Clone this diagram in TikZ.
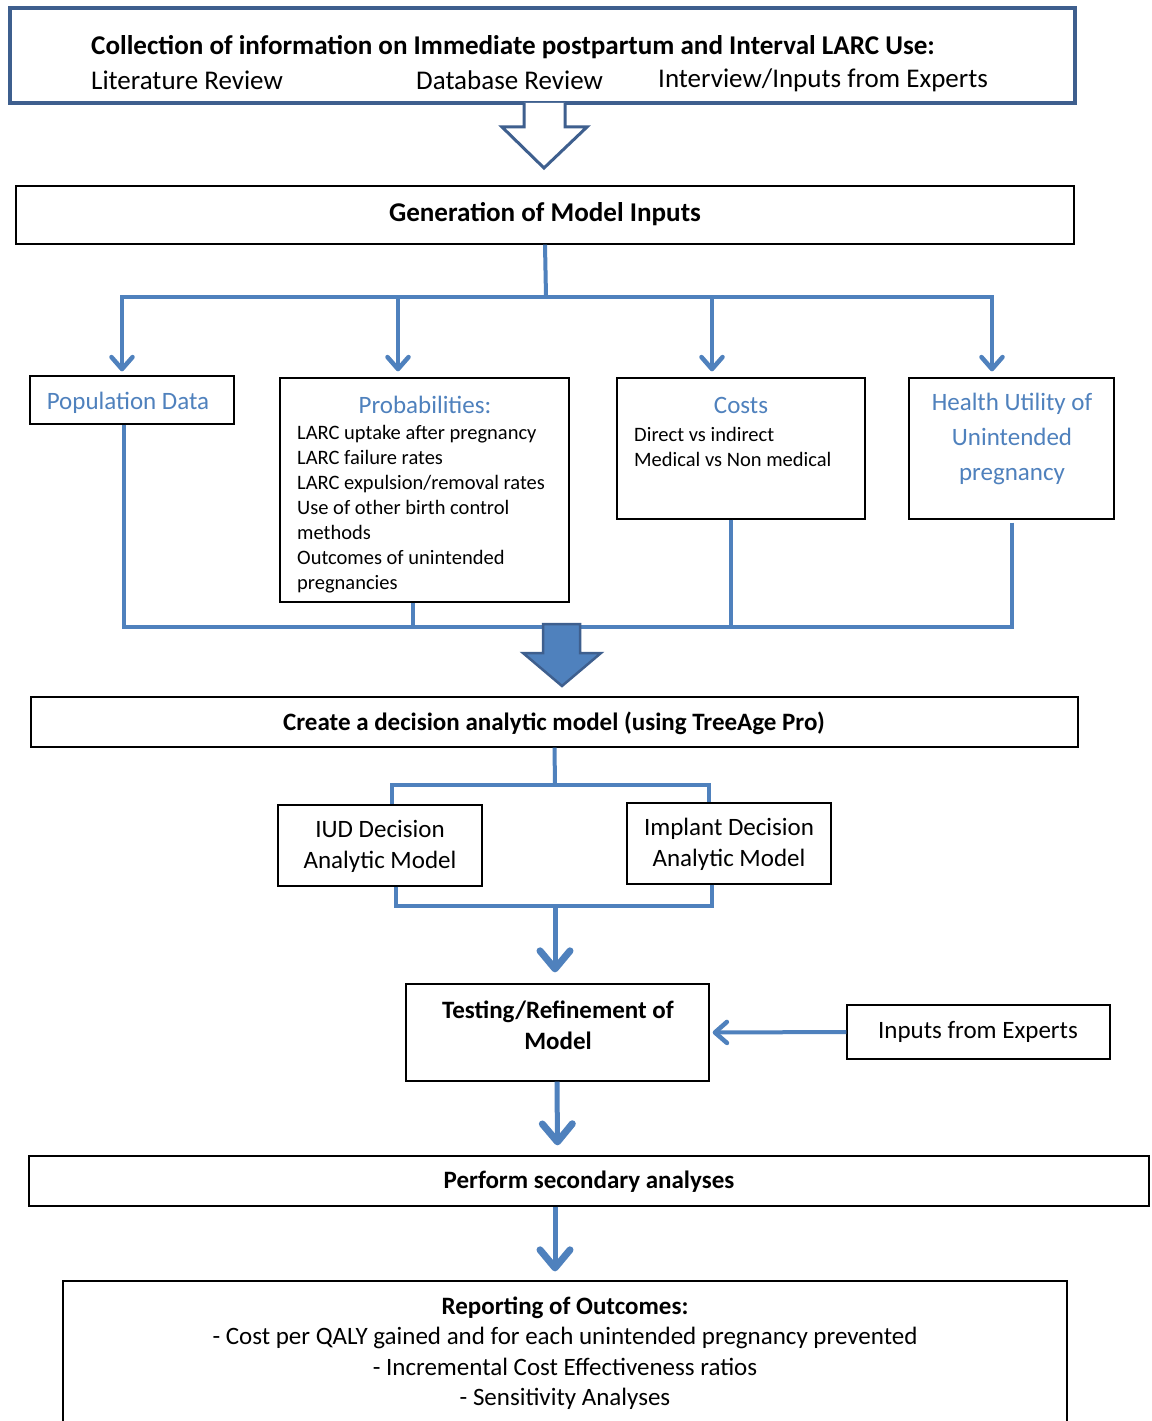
\documentclass[tikz,border=0pt]{standalone}
\usepackage{fontspec}
\setmainfont{Carlito}
\usetikzlibrary{arrows.meta}
\definecolor{lblue}{HTML}{4F81BD}
\definecolor{dblue}{HTML}{3E5F8E}
\definecolor{tblue}{HTML}{4F81BD}
\tikzset{
  box/.style={draw=black, line width=1.3bp, fill=white, inner sep=0pt},
  conn/.style={draw=lblue, line width=4bp},
  arr/.style={conn, -{Straight Barb[length=12bp,width=21bp,line width=4.5bp,round]}},
  bigarr/.style={draw=lblue, line width=5bp, -{Straight Barb[length=18bp,width=30bp,line width=7bp,round]}},
  txt/.style={inner sep=0pt, font=\fontsize{25bp}{31bp}\selectfont},
  toptxt/.style={inner sep=0pt, font=\fontsize{27bp}{31bp}\selectfont},
  btxt/.style={inner sep=0pt, font=\fontsize{25bp}{31bp}\selectfont\bfseries},
  ltxt/.style={inner sep=0pt, font=\fontsize{20.5bp}{25bp}\selectfont, align=left},
  htxt/.style={inner sep=0pt, font=\fontsize{25bp}{35bp}\selectfont, text=tblue, align=center},
}
\begin{document}
\begin{tikzpicture}[x=1bp,y=-1bp]
\useasboundingbox[fill=white] (0,0) rectangle (1151,1421);
\begin{scope}
\clip (0,0) rectangle (1151,1421);
% top box
\node[draw=dblue, line width=3.5bp, fill=white, minimum width=1065bp, minimum height=95bp, inner sep=0pt] (top) at (542.5,55.5) {};
\node[anchor=west, toptxt, font=\fontsize{27.1bp}{31bp}\selectfont\bfseries] (toptitle) at (91,47) {Collection of information on Immediate postpartum and Interval LARC Use:};
\node[anchor=west, toptxt] (lit) at (91,80.5) {Literature Review};
\node[anchor=west, toptxt] (db) at (416,80.5) {Database Review};
\node[anchor=west, toptxt] (exp) at (658,80.5) {Interview/Inputs from Experts};
% hollow arrow
\draw[draw=dblue, line width=3bp, fill=white, line join=miter] (524,103) -- (524,127) -- (502,127) -- (544,168) -- (587,127) -- (565,127) -- (565,103);
% generation
\node[box, minimum width=1058bp, minimum height=58bp] (gen) at (545,215) {};
\node[btxt, font=\fontsize{27.1bp}{31bp}\selectfont\bfseries] (gentxt) at (545,214) {Generation of Model Inputs};
% four boxes
\node[box, minimum width=204bp, minimum height=48bp] (pop) at (132,400) {};
\node[htxt] (poptxt) at (128,403) {Population Data};
\node[box, minimum width=289bp, minimum height=224bp] (prob) at (424.5,490) {};
\node[htxt] (probt) at (425,405) {Probabilities:};
\node[ltxt, anchor=west] (probl) at (297,509.5) {LARC uptake after pregnancy\\LARC failure rates\\LARC expulsion/removal rates\\Use of other birth control\\methods\\Outcomes of unintended\\pregnancies};
\node[box, minimum width=248bp, minimum height=141bp] (cost) at (741,448.5) {};
\node[htxt] (costt) at (741,405) {Costs};
\node[ltxt, anchor=west] (costl) at (634,447) {Direct vs indirect\\Medical vs Non medical};
\node[box, minimum width=205bp, minimum height=141bp] (hu) at (1011.5,448.5) {};
\node[htxt] (hut) at (1012,439) {Health Utility of\\Unintended\\pregnancy};
% bus above
\coordinate (bus) at (546,297);
\draw[conn] (gen.south) -- (bus);
\draw[arr] (bus) -| ([xshift=-10bp,yshift=4bp]pop.north);
\draw[arr] (bus) -| ([xshift=-26.5bp,yshift=6bp]prob.north);
\draw[arr] (bus) -| ([xshift=-29bp,yshift=6bp]cost.north);
\draw[arr] (bus) -| ([xshift=-19.5bp,yshift=6bp]hu.north);
% bus below
\coordinate (bus2) at (562,627);
\draw[conn] ([xshift=-8bp]pop.south) |- (bus2);
\draw[conn] ([xshift=-11.5bp]prob.south) |- (bus2);
\draw[conn] ([xshift=-10bp]cost.south) |- (bus2);
\draw[conn] ([xshift=0.5bp,yshift=-3bp]hu.south) |- (bus2);
% filled arrow
\draw[draw=dblue, line width=2.5bp, fill=lblue, line join=miter] (543,624) -- (543,653) -- (523,653) -- (562,686) -- (601,653) -- (580,653) -- (580,624) -- cycle;
% create
\node[box, minimum width=1047bp, minimum height=50bp] (create) at (554.5,722) {};
\node[btxt] (createtxt) at (554,723.5) {Create a decision analytic model (using TreeAge Pro)};
% IUD / Implant
\node[box, minimum width=204bp, minimum height=81bp] (iud) at (380,845.5) {};
\node[txt, align=center] (iudt) at (380,846) {IUD Decision\\Analytic Model};
\node[box, minimum width=204bp, minimum height=81bp] (imp) at (729,843.5) {};
\node[txt, align=center] (impt) at (729,844) {Implant Decision\\Analytic Model};
\coordinate (j1) at (555,785);
\draw[conn] (create.south) -- (j1);
\draw[conn] (j1) -| ([xshift=12bp]iud.north);
\draw[conn] (j1) -| ([xshift=-20bp]imp.north);
\coordinate (j2) at (555,906);
\draw[conn] ([xshift=16bp]iud.south) |- (j2);
\draw[conn] ([xshift=-17bp]imp.south) |- (j2);
% testing
\node[box, minimum width=303bp, minimum height=97bp] (test) at (557.5,1032.5) {};
\node[btxt, align=center] (testt) at (558,1025) {Testing/Refinement of\\Model};
\draw[bigarr] (j2) -- ([yshift=11bp]j2 |- test.north);
\node[box, minimum width=263bp, minimum height=54bp] (inp) at (978.5,1032) {};
\node[txt] (inpt) at (978,1031.5) {Inputs from Experts};
\draw[arr] (inp.west) -- ([xshift=3bp]test.east);
% perform
\node[box, minimum width=1120bp, minimum height=50bp] (perf) at (589,1181) {};
\node[btxt] (perft) at (589,1182) {Perform secondary analyses};
\draw[bigarr] ([xshift=-0.5bp]test.south) -- ([yshift=10bp]test.south |- perf.north);
% reporting
\node[box, minimum width=1004bp, minimum height=200bp] (rep) at (565,1381) {};
\node[txt, font=\fontsize{25bp}{30.5bp}\selectfont, align=center] (rept) at (565,1353) {\textbf{Reporting of Outcomes:}\\- Cost per QALY gained and for each unintended pregnancy prevented\\- Incremental Cost Effectiveness ratios\\- Sensitivity Analyses};
\draw[bigarr] (perf.south -| j2) -- ([yshift=9bp]rep.north -| j2);
\end{scope}
\end{tikzpicture}
\end{document}
